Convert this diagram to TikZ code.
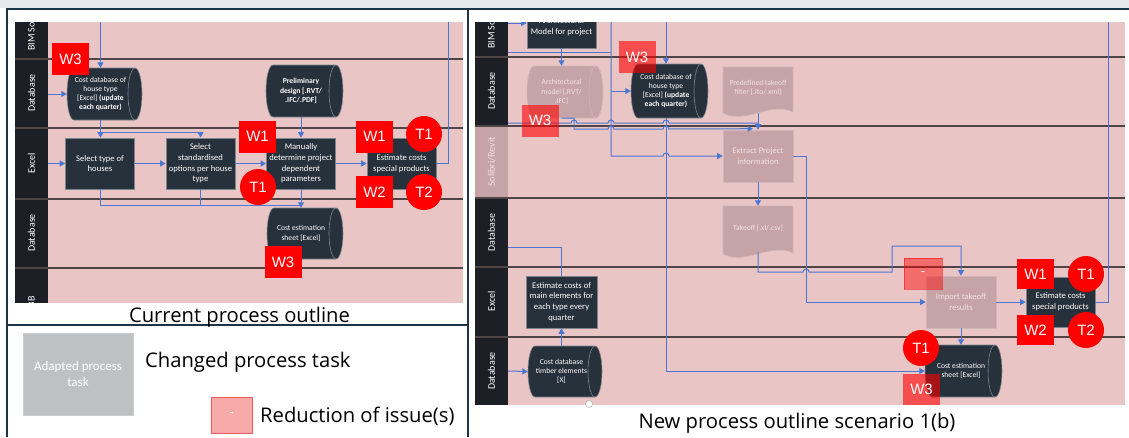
\documentclass[tikz,border=0pt]{standalone}
\usepackage{fontspec}
\setmainfont{Carlito}
\newfontfamily\titlefont{Open Sans}
\newfontfamily\markfont{Liberation Sans}
\usetikzlibrary{arrows.meta,calc}

\definecolor{lanepink}{HTML}{E9C5C5}
\definecolor{lanerule}{HTML}{4F4545}
\definecolor{hdrdark}{HTML}{1C1F26}
\definecolor{taskdark}{HTML}{27313B}
\definecolor{taskedge}{HTML}{7C858E}
\definecolor{fadefill}{HTML}{C6A3A6}
\definecolor{fadeedge}{HTML}{D3B6B8}
\definecolor{fadetext}{HTML}{F2E2E2}
\definecolor{flowblue}{HTML}{4A77D4}
\definecolor{framec}{HTML}{1D3447}
\definecolor{topstrip}{HTML}{E6EAED}
\definecolor{legendgray}{HTML}{BFC0C2}
\definecolor{minusfill}{HTML}{F8A9A9}
\definecolor{minusedge}{HTML}{EE5A5A}

% horizontal storage cylinder: #1 style, #2 x1, #3 y1, #4 x2, #5 y2
\newcommand\cylshape[5]{%
  \path[#1] (#2+7,#3) arc[start angle=270,end angle=90,x radius=7,y radius={(#5-#3)/2}]
    -- (#4-7,#5) arc[start angle=90,end angle=-90,x radius=7,y radius={(#5-#3)/2}] -- cycle;
  \path[#1,fill=none] (#4-7,#3) arc[start angle=270,end angle=90,x radius=7,y radius={(#5-#3)/2}];
}
% document symbol with wavy lower edge: #1 style, #2 x1, #3 y1, #4 x2, #5 y2
\newcommand\docshape[5]{%
  \path[#1] (#2,#3) -- (#4,#3) -- (#4,#5-5)
    .. controls (#4-22,#5-16) and (#2+22,#5+8) .. (#2,#5-4) -- cycle;
}

\begin{document}
\begin{tikzpicture}[x=1pt,y=-1pt,
  laneline/.style={draw=lanerule,line width=2pt},
  hdrtext/.style={rotate=90,text=white,inner sep=0,font=\fontsize{10}{12}\selectfont},
  flow/.style={draw=flowblue,line width=1pt},
  flowarrow/.style={flow,-{Triangle[width=6pt,length=5.5pt]}},
  task/.style={draw=taskedge,fill=taskdark,line width=0.6pt,text=white,align=center,
    minimum width=69pt,minimum height=51pt,inner sep=1pt,font=\fontsize{8.6}{10.6}\selectfont},
  fadetask/.style={task,draw=fadeedge,fill=fadefill,text=fadetext},
  cyldark/.style={fill=taskdark,draw=taskedge,line width=0.6pt},
  cylfade/.style={fill=fadefill,draw=fadeedge,line width=0.6pt},
  cyltext/.style={text=white,align=center,inner sep=0,font=\fontsize{7.6}{9.3}\selectfont},
  fadetext/.style={cyltext,text=fadetext},
  issue/.style={fill=red,text=white,font=\markfont\fontsize{15}{15}\selectfont,
    minimum width=37pt,minimum height=32pt,inner sep=0},
  issuefade/.style={issue,fill opacity=0.6,text opacity=1},
  tcirc/.style={circle,fill=red,text=white,font=\markfont\fontsize{15}{15}\selectfont,
    minimum size=36pt,inner sep=0},
  minusbox/.style={fill=minusfill,draw=minusedge,line width=0.8pt,text=white,
    font=\markfont\fontsize{13}{13}\selectfont,inner sep=0},
  caption/.style={font=\titlefont\fontsize{20.2}{22}\selectfont,text=black,inner sep=0}
]
\useasboundingbox (0,0) rectangle (1129,437);
\fill[white] (0,0) rectangle (1129,437);
\fill[topstrip] (0,0) rectangle (1129,7.5);

% ---------- frames ----------
\draw[framec,line width=2pt] (6,8.5) -- (1129,8.5);
\draw[framec,line width=1.6pt] (7,8.5) -- (7,437);
\draw[framec,line width=2.6pt] (468,8.5) -- (468,437);
\draw[framec,line width=1.6pt] (7,325) -- (468,325);

% ---------- current process ----------
\begin{scope}
\clip (15,22) rectangle (463,303);
\fill[lanepink] (15,22) rectangle (463,303);
\fill[hdrdark] (15,22) rectangle (48,303);
\foreach \y in {58.5,128,198.5,267.5} \draw[laneline] (15,\y) -- (463,\y);
\node[hdrtext,anchor=west] (hL1) at (31.5,51) {BIM So};
\node[hdrtext] (hL2) at (31.5,93) {Database};
\node[hdrtext] (hL3) at (31.5,163.5) {Excel};
\node[hdrtext] (hL4) at (31.5,233) {Database};
\node[hdrtext,anchor=east] (hL5) at (31.5,296) {BB};

\cylshape{cyldark}{67}{68}{142}{120}
\node[cyltext,minimum width=67pt,minimum height=52pt] (cdbL) at (100.5,94)
  {Cost database of\\house type\\{[Excel]} \textbf{(update}\\\textbf{each quarter)}};
\cylshape{cyldark}{266}{65}{343}{117}
\node[cyltext,minimum width=70pt,minimum height=52pt,font=\bfseries\fontsize{7.6}{9.3}\selectfont] (prelim) at (301,91)
  {Preliminary\\design [.RVT/\\.IFC/.PDF]};
\cylshape{cyldark}{267}{208}{343}{259}
\node[cyltext,minimum width=68pt,minimum height=51pt] (cesL) at (301,233.5)
  {Cost estimation\\sheet {[Excel]}};

\node[task] (st) at (100,163.5) {Select type of\\houses};
\node[task] (ss) at (200.5,163.5) {Select\\standardised\\options per house\\type};
\node[task] (md) at (301,163.5) {Manually\\determine project\\dependent\\parameters};
\node[task] (ecL) at (401.5,163.5) {Estimate costs\\special products};

\coordinate (inL0) at (100.5,22);
\coordinate (inL1) at (48,94);
\coordinate (inL2) at (48,163.5);
\coordinate (outL) at (448,22);
\draw[flowarrow] (inL0) -- (cdbL.north);
\draw[flowarrow] (inL1) -- (cdbL.west);
\draw[flowarrow] (cdbL.south) -- (cdbL.south |- st.north);
\draw[flowarrow] ($(cdbL.south)+(0,12)$) -| (ss.north);
\draw[flowarrow] (inL2) -- (st.west);
\draw[flowarrow] (st.east) -- (ss.west);
\draw[flowarrow] (ss.east) -- (md.west);
\draw[flowarrow] (md.east) -- (ecL.west);
\draw[flowarrow] (prelim.south) -- (md.north);
\draw[flow] (st.south) |- ($(md.south)+(0,16)$);
\draw[flow] (ss.south) -- ++(0,16);
\draw[flowarrow] (md.south) -- (cesL.north);
\draw[flow] (ecL.east) -| (outL);

\node[issue] (w3a) at (70.5,59) {W3};
\node[issue] (w1a) at (257.5,136.5) {W1};
\node[issue] (w1b) at (374.5,136.5) {W1};
\node[tcirc] (t1a) at (424,134) {T1};
\node[tcirc] (t1b) at (258,187) {T1};
\node[issue] (w2a) at (374.5,192) {W2};
\node[tcirc] (t2a) at (424,192) {T2};
\node[issue] (w3b) at (283,262) {W3};
\end{scope}
\node[caption,anchor=base] (capL) at (239.5,322) {Current process outline};

% ---------- legend ----------
\node[fill=legendgray,draw=legendgray!80!white,minimum width=110pt,minimum height=82pt,
  text=white,align=center,inner sep=0,font=\fontsize{13}{15.5}\selectfont]
  (legtask) at (78,374) {Adapted process\\task};
\node[caption,anchor=base west] (legtasktext) at (145,367) {Changed process task};
\node[minusbox,minimum width=41pt,minimum height=36pt] (legminus) at (231.5,415) {-};
\node[caption,anchor=base west] (legminustext) at (260,422) {Reduction of issue(s)};

% ---------- new process ----------
\begin{scope}
\clip (475,22) rectangle (1125,405);
\fill[lanepink] (475,22) rectangle (1125,405);
\fill[hdrdark] (475,22) rectangle (508,405);
\fill[fadefill] (475,126) rectangle (508,198);
\foreach \y in {56.5,126,198,267,336.5} \draw[laneline] (475,\y) -- (1125,\y);
\node[hdrtext,anchor=west] (hR1) at (491.5,49) {BIM So};
\node[hdrtext] (hR2) at (491.5,91) {Database};
\node[hdrtext,text=fadetext] (hR3) at (491.5,162) {Solibri/Revit};
\node[hdrtext] (hR4) at (491.5,232.5) {Database};
\node[hdrtext] (hR5) at (491.5,301.5) {Excel};
\node[hdrtext] (hR6) at (491.5,371) {Database};

\node[task,minimum height=42pt] (amod) at (561.5,27) {Architectural\\Model for project};
\cylshape{cylfade}{527}{66}{603}{118}
\node[fadetext,minimum width=69pt,minimum height=52pt] (acyl) at (561.5,92)
  {Architectural\\model [.RVT/\\.IFC]};
\cylshape{cyldark}{631}{64}{708}{118}
\node[cyltext,minimum width=70pt,minimum height=54pt] (cdbR) at (666,91)
  {Cost database of\\house type\\{[Excel]} \textbf{(update}\\\textbf{each quarter)}};
\docshape{cylfade}{723}{67}{793}{117}
\node[fadetext,minimum width=70pt,minimum height=42pt] (filt) at (758,88)
  {Predefined takeoff\\filter [.ito/.xml]};
\node[fadetask,minimum width=70pt,minimum height=52pt] (ext) at (758,156) {Extract Project\\information};
\docshape{cylfade}{723}{206}{793}{258}
\node[fadetext,minimum width=70pt,minimum height=44pt] (tko) at (758,228) {Takeoff [.xl/.csv]};
\node[fadetask,minimum width=70pt,minimum height=52pt] (imp) at (961,302) {Import takeoff\\results};
\node[task,minimum height=50pt] (ecR) at (1060.5,302) {Estimate costs\\special products};
\cylshape{cyldark}{925}{345}{1002}{397}
\node[cyltext,minimum width=72pt,minimum height=52pt] (cesR) at (961,371)
  {Cost estimation\\sheet {[Excel]}};
\node[task,minimum width=71pt,minimum height=52pt] (emain) at (561.5,302)
  {Estimate costs of\\main elements for\\each type every\\quarter};
\cylshape{cyldark}{528}{346}{602}{397}
\node[cyltext,minimum width=67pt,minimum height=51pt] (cdbT) at (561.5,371.5)
  {Cost database\\timber elements\\{[X]}};

\coordinate (inR0) at (508,23);
\coordinate (inR1) at (508,52);
\coordinate (inR2) at (508,123);
\coordinate (inR3) at (508,247);
\coordinate (inR4) at (508,371);
\coordinate (topR1) at (611,22);
\coordinate (topR2) at (666,22);
\coordinate (outR) at (1108,22);
\draw[flowarrow] (inR0) -- (inR0 -| amod.west);
\draw[flowarrow] (amod.south) -- (acyl.north);
\draw[flow] (inR1) -- (topR1 |- inR1);
\draw[flowarrow] (topR1) -- (611,156) -- (663,156) arc[start angle=180,end angle=360,radius=3] -- (ext.west);
\draw[flowarrow] (topR1 |- cdbR.west) -- (cdbR.west);
\draw[flowarrow] (topR2) -- (cdbR.north);
\draw[flowarrow] (cdbR.south) |- (cesR.west);
\draw[flowarrow] (acyl.south) -- (574,118) -- (574,129) -- (608,129)
  arc[start angle=180,end angle=360,radius=3] -- (663,129)
  arc[start angle=180,end angle=360,radius=3] -- ($(ext.north)+(-5,-1)$);
\draw[flow] (inR2) -- (571,123) arc[start angle=180,end angle=360,radius=3] -- (608,123)
  arc[start angle=180,end angle=360,radius=3] -- (663,123)
  arc[start angle=180,end angle=360,radius=3] -- (filt.south |- inR2);
\draw[flowarrow] ($(filt.south)+(0,4)$) -- (ext.north);
\draw[flowarrow] (ext.south) -- (tko.north);
\draw[flowarrow] (ext.east) -- (806,156) |- (imp.west);
\draw[flowarrow] ($(tko.south)+(0,2)$) -- (758,272) -- (803,272)
  arc[start angle=180,end angle=360,radius=3] -- (892,272) -- (892,246) -| (imp.north);
\draw[flowarrow] (imp.east) -- (ecR.west);
\draw[flow] (ecR.east) -| (outR);
\draw[flowarrow] (imp.south) -- (cesR.north);
\draw[flow] (inR3) -| (emain.north);
\draw[flowarrow] (cdbT.north) -- (emain.south);
\draw[flowarrow] (inR4) -- (cdbT.west);

\node[issuefade] (w3c) at (637,57) {W3};
\node[issuefade] (w3d) at (540,120.5) {W3};
\node[minusbox,fill=red,fill opacity=0.45,draw=red,draw opacity=0.5,text opacity=1,
  minimum width=38pt,minimum height=31pt] (minusR) at (923,273.5) {-};
\node[issue,minimum height=30pt] (w1c) at (1035.5,274) {W1};
\node[tcirc] (t1c) at (1086,274) {T1};
\node[issue,minimum height=30pt] (w2c) at (1035.5,330) {W2};
\node[tcirc] (t2c) at (1086,330) {T2};
\node[tcirc] (t1d) at (921,348) {T1};
\node[issuefade,minimum height=31pt] (w3e) at (921.5,389.5) {W3};
\end{scope}
\node[circle,fill=white,draw=gray!60,line width=0.5pt,minimum size=7pt,inner sep=0] (handle) at (589,404) {};
\node[caption,anchor=base] (capR) at (797,428) {New process outline scenario 1(b)};
\end{tikzpicture}
\end{document}
